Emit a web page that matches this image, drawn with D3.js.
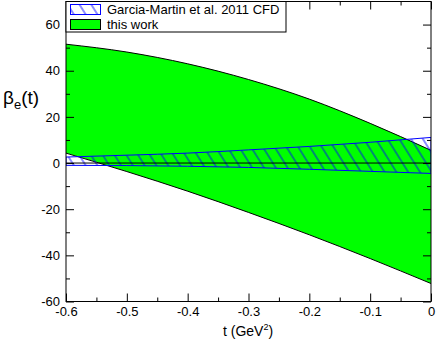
<!DOCTYPE html>
<html><head><meta charset="utf-8">
<script src="https://cdn.jsdelivr.net/npm/d3@7"></script>
<style>body{margin:0;background:#fff}svg{display:block;font-family:"Liberation Sans",Arial,sans-serif}</style>
</head><body>
<svg id="c" width="436" height="343"></svg>
<script>
const tValues = [-0.6, -0.5, -0.4, -0.3, -0.2, -0.1, 0];
const thisWorkUpper = [51.5, 48.1, 43.0, 36.2, 27.7, 17.2, 5.5];
const thisWorkLower = [4.3, -3.7, -12.2, -21.4, -31.1, -41.4, -52.2];
const cfdUpper = [2.6, 3.4, 4.3, 5.7, 7.2, 9.0, 11.1];
const cfdLower = [-1.0, -1.1, -1.4, -1.9, -2.7, -3.6, -4.5];
const xMajorTicks = [-0.6, -0.5, -0.4, -0.3, -0.2, -0.1, 0];
const xMinorTicks = [-0.55, -0.45, -0.35, -0.25, -0.15, -0.05];
const yMajorTicks = [-60, -40, -20, 0, 20, 40, 60];
const yMinorTicks = [-50, -30, -10, 10, 30, 50];
const legendLabels = ["Garcia-Martin et al. 2011 CFD", "this work"];

const svg = d3.select("#c");
const L = 66, R = 431, T = 1.5, B = 301.5;
const x = d3.scaleLinear().domain([-0.6, 0]).range([L, R]);
const y = d3.scaleLinear().domain([-60, 70]).range([B, T]);

const defs = svg.append("defs");
const pat = defs.append("pattern").attr("id", "hatch").attr("patternUnits", "userSpaceOnUse")
  .attr("width", 10).attr("height", 10).attr("patternTransform", "rotate(-32)");
pat.append("line").attr("x1", 5).attr("y1", -1).attr("x2", 5).attr("y2", 11)
  .attr("stroke", "#0000ff").attr("stroke-width", 0.9);
defs.append("clipPath").attr("id", "clip").append("rect")
  .attr("x", L).attr("y", T).attr("width", R - L).attr("height", B - T);

const rows = tValues.map((t, i) => ({t, u: thisWorkUpper[i], l: thisWorkLower[i], cu: cfdUpper[i], cl: cfdLower[i]}));
const g = svg.append("g").attr("clip-path", "url(#clip)");

const area1 = d3.area().x(d => x(d.t)).y0(d => y(d.l)).y1(d => y(d.u)).curve(d3.curveMonotoneX);
g.append("path").datum(rows).attr("d", area1).attr("fill", "#00ff00");
const lineU = d3.line().x(d => x(d.t)).y(d => y(d.u)).curve(d3.curveMonotoneX);
const lineL = d3.line().x(d => x(d.t)).y(d => y(d.l)).curve(d3.curveMonotoneX);
g.append("path").datum(rows).attr("d", lineU).attr("fill", "none").attr("stroke", "#000").attr("stroke-width", 1);
g.append("path").datum(rows).attr("d", lineL).attr("fill", "none").attr("stroke", "#000").attr("stroke-width", 1);

const area2 = d3.area().x(d => x(d.t)).y0(d => y(d.cl)).y1(d => y(d.cu)).curve(d3.curveMonotoneX);
g.append("path").datum(rows).attr("d", area2).attr("fill", "url(#hatch)")
  .attr("stroke", "#0000ff").attr("stroke-width", 1);

// zero line
g.append("line").attr("x1", L).attr("x2", R).attr("y1", y(0)).attr("y2", y(0))
  .attr("stroke", "#000").attr("stroke-width", 1);

// frame
svg.append("rect").attr("x", L).attr("y", T).attr("width", R - L).attr("height", B - T)
  .attr("fill", "none").attr("stroke", "#000").attr("stroke-width", 1);

function styleAxis(sel) {
  sel.select(".domain").remove();
  sel.selectAll("line").attr("stroke", "#000");
  sel.selectAll("text").attr("font-size", 13).attr("fill", "#000")
    .attr("font-family", "'Liberation Sans', Arial, sans-serif");
}
const fmtX = d => d === 0 ? "0" : d.toFixed(1);
svg.append("g").attr("transform", `translate(0,${B})`)
  .call(d3.axisBottom(x).tickValues(xMajorTicks).tickSize(-8).tickPadding(5).tickFormat(fmtX)).call(styleAxis);
svg.append("g").attr("transform", `translate(0,${B})`)
  .call(d3.axisBottom(x).tickValues(xMinorTicks).tickSize(-4).tickFormat("")).call(styleAxis);
svg.append("g").attr("transform", `translate(0,${T})`)
  .call(d3.axisTop(x).tickValues(xMajorTicks).tickSize(-8).tickFormat("")).call(styleAxis);
svg.append("g").attr("transform", `translate(0,${T})`)
  .call(d3.axisTop(x).tickValues(xMinorTicks).tickSize(-4).tickFormat("")).call(styleAxis);
svg.append("g").attr("transform", `translate(${L},0)`)
  .call(d3.axisLeft(y).tickValues(yMajorTicks).tickSize(-8).tickPadding(6).tickFormat(d => String(d))).call(styleAxis);
svg.append("g").attr("transform", `translate(${L},0)`)
  .call(d3.axisLeft(y).tickValues(yMinorTicks).tickSize(-4).tickFormat("")).call(styleAxis);
svg.append("g").attr("transform", `translate(${R},0)`)
  .call(d3.axisRight(y).tickValues(yMajorTicks).tickSize(-8).tickFormat("")).call(styleAxis);
svg.append("g").attr("transform", `translate(${R},0)`)
  .call(d3.axisRight(y).tickValues(yMinorTicks).tickSize(-4).tickFormat("")).call(styleAxis);

// axis titles
const xt = svg.append("text").attr("x", 223).attr("y", 336).attr("font-size", 14).attr("fill", "#000");
xt.append("tspan").text("t (GeV");
xt.append("tspan").attr("font-size", 9).attr("dy", -6).text("2");
xt.append("tspan").attr("dy", 6).text(")");

const yt = svg.append("text").attr("x", 3).attr("y", 104).attr("font-size", 19).attr("fill", "#000");
yt.append("tspan").text("β");
yt.append("tspan").attr("font-size", 13).attr("dy", 5).text("e");
yt.append("tspan").attr("dy", -5).text("(t)");

// legend
const lg = svg.append("g");
lg.append("rect").attr("x", L).attr("y", T).attr("width", 220).attr("height", 30.5)
  .attr("fill", "#fff").attr("stroke", "#000").attr("stroke-width", 1);
lg.append("rect").attr("x", 70.5).attr("y", 4.5).attr("width", 30).attr("height", 10)
  .attr("fill", "url(#hatch)").attr("stroke", "#0000ff").attr("stroke-width", 1);
lg.append("rect").attr("x", 70.5).attr("y", 19.5).attr("width", 30).attr("height", 10)
  .attr("fill", "#00ff00").attr("stroke", "#000").attr("stroke-width", 1);
legendLabels.forEach((s, i) => {
  lg.append("text").attr("x", 107).attr("y", 14 + i * 14.5).attr("font-size", 13).attr("fill", "#000").text(s);
});
</script>
</body></html>
